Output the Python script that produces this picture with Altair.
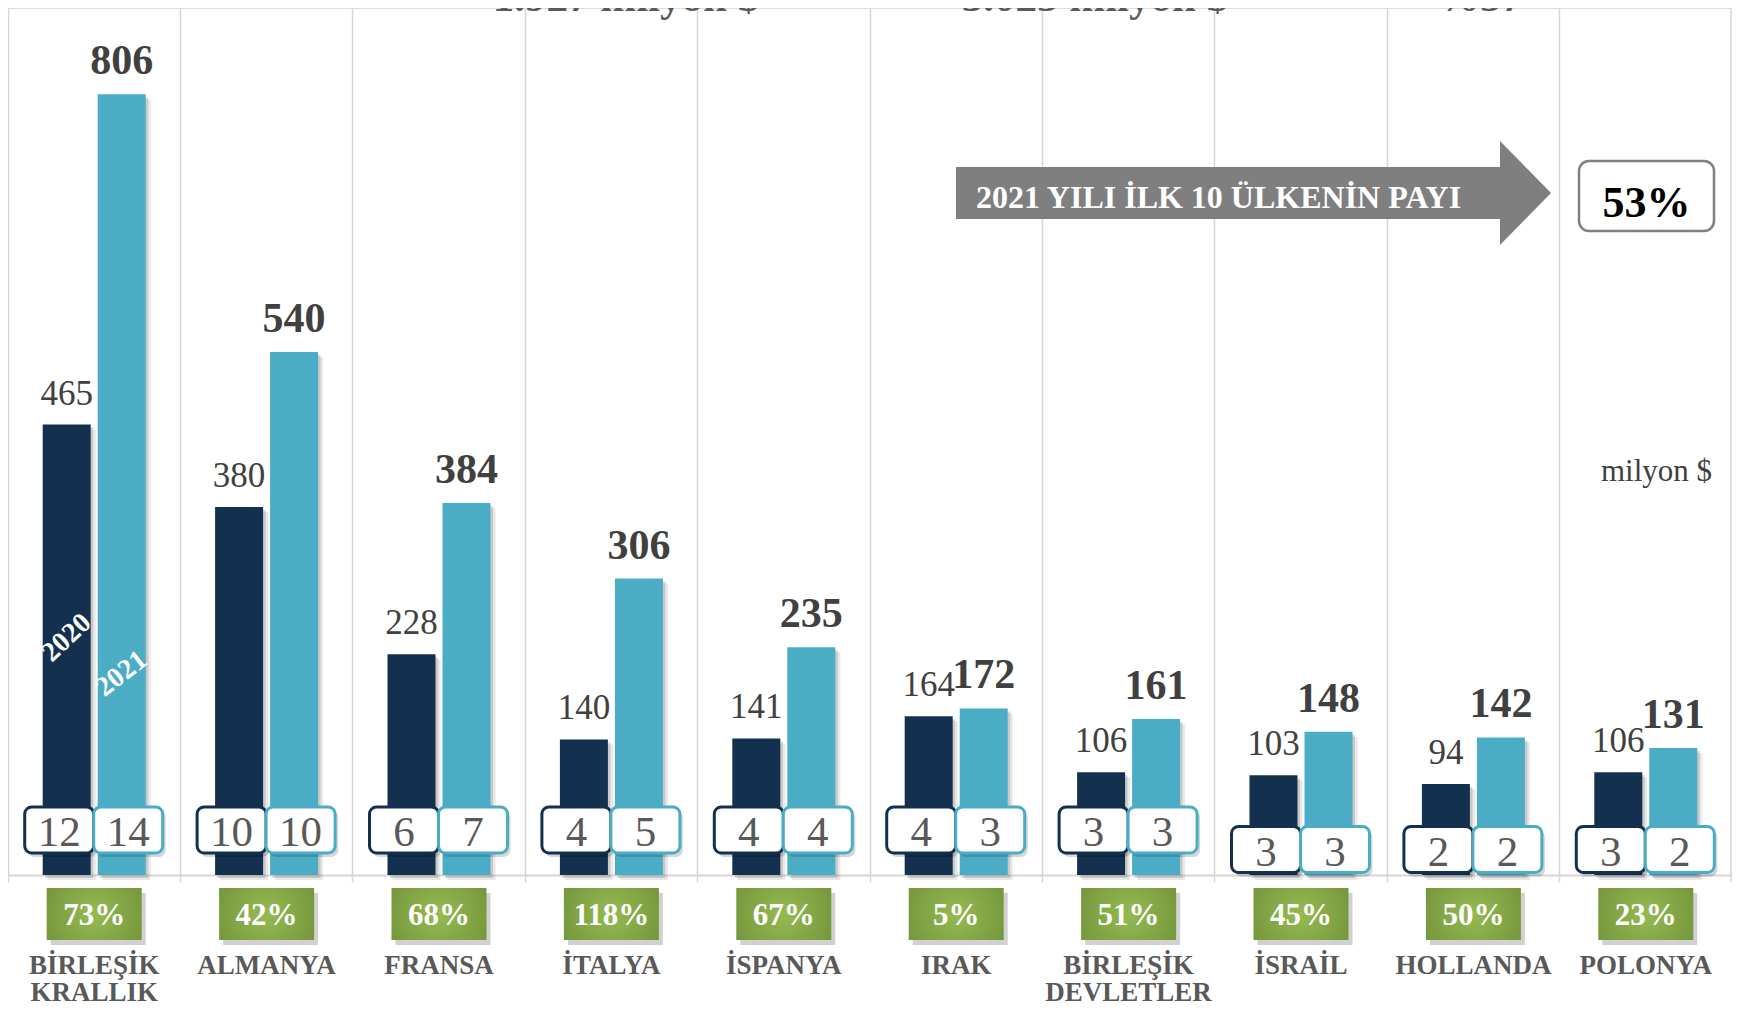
import altair as alt
import pandas as pd

# ---------------- data ----------------
countries = ["BİRLEŞİK\nKRALLIK", "ALMANYA", "FRANSA", "İTALYA", "İSPANYA", "IRAK",
             "BİRLEŞİK\nDEVLETLER", "İSRAİL", "HOLLANDA", "POLONYA"]
years = ["2020", "2021"]
values_2020 = [465, 380, 228, 140, 141, 164, 106, 103, 94, 106]
values_2021 = [806, 540, 384, 306, 235, 172, 161, 148, 142, 131]
rank_2020 = [12, 10, 6, 4, 4, 4, 3, 3, 2, 3]
rank_2021 = [14, 10, 7, 5, 4, 3, 3, 3, 2, 2]
growth = ["73%", "42%", "68%", "118%", "67%", "5%", "51%", "45%", "50%", "23%"]
header_texts = ["1.927 milyon $", "3.025 milyon $", "%57"]
share_title = "2021 YILI İLK 10 ÜLKENİN PAYI"
share_value = "53%"
unit_label = "milyon $"

# ---------------- layout / style ----------------
W, H = 1724, 867
YMAX = 895
FONT = "Liberation Serif"
NAVY = "#13304f"
LIGHT = "#4bacc6"
GRID = "#d6d6d6"
low_box = {"İSRAİL", "HOLLANDA", "POLONYA"}

df = pd.DataFrame({
    "country": countries,
    "v2020": values_2020,
    "v2021": values_2021,
    "r2020": rank_2020,
    "r2021": rank_2021,
    "growth": growth,
})
df["box_c"] = [26.3 if c in low_box else 46.5 for c in countries]
df["box_top"] = df["box_c"] + 23.8
df["box_bot"] = df["box_c"] - 23.8

X = alt.X("country:N", sort=countries,
          scale=alt.Scale(paddingInner=0, paddingOuter=0),
          axis=alt.Axis(labels=False, title=None, grid=True, gridColor=GRID, gridWidth=1.5,
                        bandPosition=0, ticks=True, tickSize=7, tickColor=GRID, tickWidth=1.5,
                        domain=True, domainColor=GRID, domainWidth=2))
YS = alt.Scale(domain=[0, YMAX], nice=False, zero=True)


def Y(field):
    return alt.Y(field, type="quantitative", scale=YS, axis=None)


base = alt.Chart(df)
layers = []

# edge line on the right
layers.append(alt.Chart(pd.DataFrame({"a": [0]})).mark_rule(color=GRID, strokeWidth=1.5).encode(
    x=alt.value(W - 1), y=alt.value(0), y2=alt.value(H + 7)))

# bar shadows + bars
for field, off, col in [("v2020", -27.5, NAVY), ("v2021", 27.5, LIGHT)]:
    layers.append(base.mark_bar(width=48, xOffset=off + 5, yOffset=5, color="#808080", opacity=0.18)
                  .encode(x=X, y=Y(field)))
    layers.append(base.mark_bar(width=48, xOffset=off + 2.5, yOffset=3, color="#808080", opacity=0.3)
                  .encode(x=X, y=Y(field)))
    layers.append(base.mark_bar(width=48, xOffset=off, color=col).encode(x=X, y=Y(field)))

# value labels
layers.append(base.mark_text(dx=-27.5, dy=-20, baseline="alphabetic", align="center", fontSize=35,
                             font=FONT, color="#404040")
              .encode(x=X, y=Y("v2020"), text="v2020:Q"))
layers.append(base.mark_text(dx=27.5, dy=-20, baseline="alphabetic", align="center", fontSize=42,
                             fontWeight="bold", font=FONT, color="#404040")
              .encode(x=X, y=Y("v2021"), text="v2021:Q"))

# year labels inside the first bars
first = alt.Chart(df.iloc[:1])
layers.append(first.mark_text(xOffset=-27.5, angle=317, fontSize=28, fontWeight="bold", font=FONT,
                              color="white", baseline="middle", align="center")
              .encode(x=X, y=alt.value(630), text=alt.value(years[0])))
layers.append(first.mark_text(xOffset=27.5, angle=322, fontSize=28, fontWeight="bold", font=FONT,
                              color="white", baseline="middle", align="center")
              .encode(x=X, y=alt.value(666), text=alt.value(years[1])))

# rank boxes
for rfield, off, col in [("r2020", -35, NAVY), ("r2021", 34, LIGHT)]:
    layers.append(base.mark_bar(width=69, xOffset=off + 3, yOffset=4, y2Offset=4, cornerRadius=7,
                                color="#000000", opacity=0.16)
                  .encode(x=X, y=Y("box_top"), y2="box_bot:Q"))
    layers.append(base.mark_bar(width=69, xOffset=off, cornerRadius=7, fill="white", stroke=col,
                                strokeWidth=3)
                  .encode(x=X, y=Y("box_top"), y2="box_bot:Q"))
    layers.append(base.mark_text(dx=off, dy=16, fontSize=43, font=FONT, color="#595959",
                                 baseline="alphabetic", align="center")
                  .encode(x=X, y=Y("box_c"), text=f"{rfield}:Q"))

# growth boxes
grad = alt.RadialGradient(gradient="radial", x1=0.5, y1=0.5, r1=0, x2=0.5, y2=0.5, r2=0.75,
                          stops=[alt.GradientStop(color="#95ba52", offset=0),
                                 alt.GradientStop(color="#6b8b35", offset=1)])
layers.append(base.mark_bar(width=95, xOffset=4, color="#000000", opacity=0.18)
              .encode(x=X, y=alt.value(885), y2=alt.value(937)))
layers.append(base.mark_bar(width=95, fill=grad, strokeWidth=0)
              .encode(x=X, y=alt.value(880), y2=alt.value(932)))
layers.append(base.mark_text(fontSize=31, fontWeight="bold", font=FONT, color="white",
                             baseline="alphabetic", align="center")
              .encode(x=X, y=alt.value(917), text="growth:N"))

# category labels
layers.append(base.mark_text(fontSize=27, fontWeight="bold", font=FONT, color="#595959",
                             baseline="alphabetic", align="center", lineBreak="\n", lineHeight=27)
              .encode(x=X, y=alt.value(966), text="country:N"))

# arrow + share box
ARROW = ("M-1,-0.0874 L0.8286,-0.0874 L0.8286,-0.1748 L1,0 L0.8286,0.1748 "
         "L0.8286,0.0874 L-1,0.0874 Z")
share_df = pd.DataFrame({"t": [share_title], "v": [share_value], "u": [unit_label]})
sc = alt.Chart(share_df)
layers.append(sc.mark_point(shape=ARROW, size=595 ** 2, filled=True, color="#7f7f7f", opacity=1,
                            strokeWidth=0)
              .encode(x=alt.value(1245.5), y=alt.value(185)))
layers.append(sc.mark_text(align="left", baseline="alphabetic", fontSize=32, fontWeight="bold",
                           font=FONT, color="white")
              .encode(x=alt.value(968), y=alt.value(200), text="t:N"))
layers.append(sc.mark_rect(cornerRadius=10, fill="white", stroke="#808080", strokeWidth=2.5)
              .encode(x=alt.value(1571), x2=alt.value(1706), y=alt.value(153), y2=alt.value(223)))
layers.append(sc.mark_text(align="center", baseline="alphabetic", fontSize=44, fontWeight="bold",
                           font=FONT, color="black")
              .encode(x=alt.value(1638.5), y=alt.value(209), text="v:N"))
layers.append(sc.mark_text(align="center", baseline="alphabetic", fontSize=31, font=FONT,
                           color="#404040")
              .encode(x=alt.value(1648.5), y=alt.value(473), text="u:N"))

# header texts (cut off at the top, as in the source)
hdr = pd.DataFrame({"h": header_texts, "px": [618, 1087, 1472]})
layers.append(alt.Chart(hdr).mark_text(align="center", baseline="alphabetic", fontSize=43,
                                       fontWeight="bold", font=FONT, color="#595959")
              .encode(x=alt.X("px:Q", scale=None), y=alt.value(3), text="h:N"))

chart = alt.layer(*layers).properties(
    width=W, height=H,
    autosize=alt.AutoSizeParams(type="none"),
    padding={"left": 0, "top": 0, "right": 0, "bottom": 131},
).configure_view(strokeWidth=0).configure(background="white")

chart.save("out.html", embed_options={"renderer": "svg", "actions": False})
